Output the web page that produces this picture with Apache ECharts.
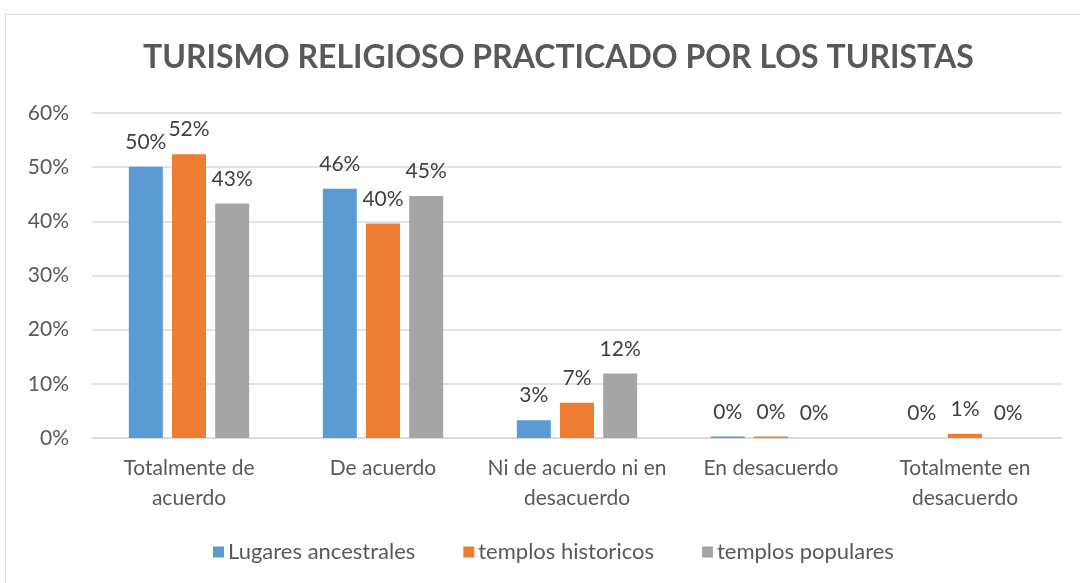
<!DOCTYPE html>
<html>
<head>
<meta charset="utf-8">
<script src="https://cdn.jsdelivr.net/npm/echarts@6/dist/echarts.min.js"></script>
<style>
  html, body { margin: 0; padding: 0; background: #fff; }
  #box { position: absolute; left: 5px; top: 14px; width: 1090px; height: 600px; border: 1px solid #d9d9d9; }
  #chart { position: absolute; left: 0; top: 0; width: 1080px; height: 583px; }
</style>
</head>
<body>
<div id="box"></div>
<div id="chart"></div>
<script>
// categorias y series
var categorias = ['Totalmente de\nacuerdo', 'De acuerdo', 'Ni de acuerdo ni en\ndesacuerdo', 'En desacuerdo', 'Totalmente en\ndesacuerdo']
var lugaresAncestrales = [50.1, 46.0, 3.3, 0.3, 0]
var templosHistoricos = [52.4, 39.6, 6.5, 0.3, 0.8]
var templosPopulares = [43.3, 44.7, 11.9, 0, 0]
var yTicks = [0, 10, 20, 30, 40, 50, 60]

var fuente = 'Lato'
var colorList = ['#5B9BD5', '#ED7D31', '#A5A5A5']

function serie(name, data, color) {
  return {
    name: name,
    type: 'bar',
    data: data,
    barWidth: 34,
    barGap: '27%',
    itemStyle: { color: color },
    label: {
      show: true,
      position: 'top',
      distance: 14,
      color: '#404040',
      fontSize: 21,
      fontFamily: fuente,
      formatter: function (p) { return Math.round(p.value) + '%' }
    }
  }
}

var chart = echarts.init(document.getElementById('chart'))
chart.setOption({
  animation: false,
  title: {
    text: 'TURISMO RELIGIOSO PRACTICADO POR LOS TURISTAS',
    left: 138,
    top: 37,
    textStyle: { fontFamily: fuente, fontWeight: 'bold', fontSize: 32, color: '#595959' }
  },
  legend: {
    bottom: 15,
    left: 208,
    itemWidth: 11,
    itemHeight: 11,
    itemGap: 48,
    icon: 'rect',
    textStyle: { fontFamily: fuente, fontSize: 22, color: '#595959', padding: [0, 0, 0, -1] },
    data: ['Lugares ancestrales', 'templos historicos', 'templos populares']
  },
  grid: { left: 92, right: 18, top: 113, bottom: 145 },
  xAxis: {
    type: 'category',
    data: categorias,
    axisLine: { lineStyle: { color: '#d9d9d9', width: 1.5 } },
    axisTick: { show: false },
    axisLabel: { fontFamily: fuente, fontSize: 21, color: '#595959', lineHeight: 30, margin: 15, interval: 0 }
  },
  yAxis: {
    type: 'value',
    min: yTicks[0],
    max: yTicks[yTicks.length - 1],
    interval: 10,
    axisLine: { show: false },
    axisTick: { show: false },
    splitLine: { lineStyle: { color: '#d9d9d9', width: 1.5 } },
    axisLabel: { fontFamily: fuente, fontSize: 21, color: '#595959', margin: 23, formatter: '{value}%' }
  },
  series: [
    serie('Lugares ancestrales', lugaresAncestrales, colorList[0]),
    serie('templos historicos', templosHistoricos, colorList[1]),
    serie('templos populares', templosPopulares, colorList[2])
  ]
})
</script>
</body>
</html>
